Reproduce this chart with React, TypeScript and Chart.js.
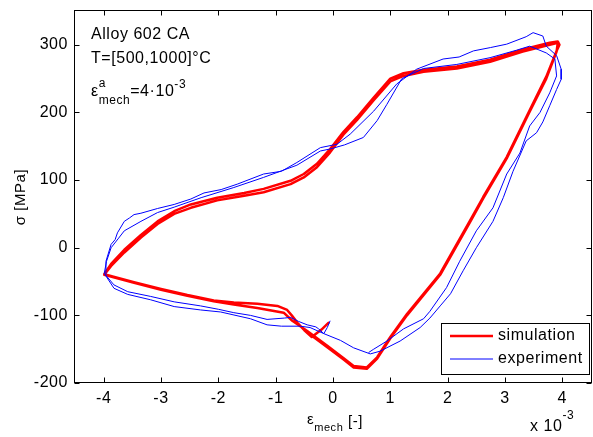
import React, { useEffect, useRef } from 'react';
import { Chart, registerables } from 'chart.js';

Chart.register(...registerables);

// strain in units of 1e-3, stress in MPa
const simStrain = [
  -0.08, -0.2, -0.37, -0.5, -0.62, -0.72, -0.8, -0.97, -1.32, -1.73, -2.08, -2.54, -3.0, -3.47, -3.99,
  -3.87, -3.64, -3.35, -3.06, -2.77, -2.48, -2.02, -1.55, -1.21, -0.74, -0.51, -0.28, -0.05, 0.18, 0.42, 0.71, 1.0, 1.23, 1.58, 2.16, 2.74, 3.31, 3.78, 3.92,
  3.95, 3.9, 3.72, 3.43, 3.03, 2.62, 2.39, 1.87, 1.29, 1.0, 0.77, 0.59,
  0.36, 0.18, -0.1, -0.45, -0.71, -0.86, -1.32, -1.73, -2.08, -2.54, -3.0, -3.47, -3.99,
  -3.87, -3.64, -3.35, -3.06, -2.77, -2.48, -2.02, -1.55, -1.21, -0.74, -0.51, -0.28, -0.05, 0.18, 0.42, 0.71, 1.0, 1.23, 1.58, 2.16, 2.74, 3.31, 3.78, 3.92,
  3.9, 3.72, 3.43, 3.03, 2.62, 2.39, 1.87, 1.29, 1.0, 0.77, 0.59, 0.36, 0.18, -0.1, -0.37,
];
const simStress = [
  -111, -121, -132, -122, -111, -100, -92, -86, -83, -81, -78, -70, -61, -51, -39,
  -24, -3, 19, 39, 54, 64, 74, 81, 87, 99, 109, 124, 146, 171, 193, 222, 250, 258, 263, 268, 278, 293, 303, 305,
  300, 291, 253, 203, 134, 75, 40, -38, -98, -132, -162, -177,
  -175, -163, -145, -123, -108, -96, -89, -84, -79, -71, -62, -52, -40,
  -27, -7, 15, 35, 50, 59, 70, 77, 82, 94, 104, 119, 141, 167, 189, 218, 246, 254, 260, 265, 275, 290, 300, 303,
  290, 250, 201, 132, 73, 38, -40, -100, -134, -164, -179, -177, -165, -147, -130,
];

const expStrain = [
  -0.05, -0.1, -0.16, -0.25, -0.3, -0.45, -0.6, -0.74, -0.85, -1.15, -1.44, -1.73, -2.0, -2.31, -2.77, -3.18, -3.58, -3.82, -3.97,
  -3.96, -3.87, -3.8, -3.76, -3.64, -3.55, -3.47, -3.35, -3.06, -2.77, -2.48, -2.25, -1.95, -1.67, -1.21, -0.9, -0.63, -0.22, 0.07, 0.3, 0.71, 1.11, 1.46, 1.92, 2.2, 2.45, 2.75, 3.03, 3.37, 3.49, 3.66, 3.72, 3.9, 3.98,
  3.98, 3.9, 3.78, 3.66, 3.55, 3.37, 3.14, 2.97, 2.79, 2.5, 2.27, 2.05, 1.87, 1.69, 1.52, 1.17, 0.82, 0.65,
  0.36, 0.13, -0.16, -0.4, -0.57, -0.9, -1.15, -1.44, -1.96, -2.31, -2.77, -3.18, -3.58, -3.82, -3.99,
  -3.95, -3.87, -3.75, -3.64, -3.35, -3.06, -2.77, -2.3, -1.73, -1.21, -0.63, -0.22, -0.05, 0.2, 0.53, 0.77, 0.94, 1.2, 1.58, 2.16, 2.74, 3.2, 3.43, 3.72, 3.87,
  3.9, 3.78, 3.61, 3.43, 3.26, 3.03, 2.79, 2.5, 2.21, 1.98, 1.69, 1.58, 1.23, 0.94, 0.71, 0.62,
];
const expStress = [
  -108, -118, -127, -120, -117, -114, -109, -103, -104, -106, -100, -96, -91, -86, -80, -72, -65, -55, -40,
  -20, 5, 12, 22, 39, 44, 49, 51, 58, 64, 72, 81, 86, 94, 109, 113, 126, 148, 153, 168, 202, 242, 264, 279, 282, 291, 296, 301, 312, 318, 313, 298, 284, 264,
  249, 234, 210, 186, 170, 158, 113, 74, 39, 0, -34, -68, -86, -104, -118, -138, -153, -157,
  -148, -137, -127, -118, -116, -116, -114, -105, -95, -92, -87, -77, -69, -60, -38,
  -20, 0, 13, 25, 39, 52, 60, 74, 89, 104, 122, 143, 146, 152, 163, 188, 212, 250, 265, 271, 281, 292, 298, 288, 279,
  254, 229, 200, 180, 140, 109, 59, 25, -20, -59, -94, -105, -120, -138, -150, -155,
];

const xTicks = [-4, -3, -2, -1, 0, 1, 2, 3, 4];
const yTicks = [-200, -100, 0, 100, 200, 300];
const seriesLabels = ['simulation', 'experiment'];
const seriesColors = ['#ff0000', '#0000ff'];
const infoLines = ['Alloy 602 CA', 'T=[500,1000]°C'];

const FONT = '"Liberation Sans", Arial, Helvetica, sans-serif';

const spacing = {
  id: 'spacing',
  beforeDraw(chart: any) {
    chart.ctx.letterSpacing = '0.55px';
  },
};

const decor = {
  id: 'decor',
  afterDraw(chart: any) {
    const { ctx, scales } = chart;
    const xs = scales.x;
    const ys = scales.y;
    ctx.save();
    ctx.letterSpacing = '0.55px';
    ctx.strokeStyle = '#000';
    ctx.lineWidth = 1;
    const L = 74.5, R = 591.5, T = 10.5, B = 382.5;
    ctx.strokeRect(L, T, R - L, B - T);
    ctx.beginPath();
    for (const v of xTicks) {
      const px = Math.round(xs.getPixelForValue(v)) + 0.5;
      ctx.moveTo(px, B); ctx.lineTo(px, B - 5);
      ctx.moveTo(px, T); ctx.lineTo(px, T + 5);
    }
    for (const v of yTicks) {
      const py = Math.round(ys.getPixelForValue(v)) + 0.5;
      ctx.moveTo(L, py); ctx.lineTo(L + 5, py);
      ctx.moveTo(R, py); ctx.lineTo(R - 5, py);
    }
    ctx.stroke();

    ctx.fillStyle = '#000';
    ctx.textAlign = 'left';
    ctx.textBaseline = 'alphabetic';
    // info text
    ctx.font = `16px ${FONT}`;
    ctx.fillText(infoLines[0], 91, 39);
    ctx.fillText(infoLines[1], 91, 63);
    let x = 91;
    ctx.fillText('ε', x, 96);
    x += ctx.measureText('ε').width;
    ctx.font = `12px ${FONT}`;
    ctx.fillText('a', x, 87);
    ctx.fillText('mech', x, 104);
    x += Math.max(ctx.measureText('a').width, ctx.measureText('mech').width);
    ctx.font = `16px ${FONT}`;
    ctx.fillText('=4·10', x, 96);
    x += ctx.measureText('=4·10').width;
    ctx.font = `12px ${FONT}`;
    ctx.fillText('-3', x, 88);

    // x axis title
    x = 307;
    ctx.font = `15px ${FONT}`;
    ctx.fillText('ε', x, 424);
    x += ctx.measureText('ε').width;
    ctx.font = `11px ${FONT}`;
    ctx.fillText('mech', x, 431);
    x += ctx.measureText('mech').width;
    ctx.font = `15px ${FONT}`;
    ctx.fillText(' [-]', x, 426);

    // exponent
    ctx.font = `16px ${FONT}`;
    ctx.fillText('x 10', 530, 431);
    const ew = ctx.measureText('x 10').width;
    ctx.font = `12px ${FONT}`;
    ctx.fillText('-3', 530 + ew, 419);

    // y axis title
    ctx.save();
    ctx.translate(21, 197);
    ctx.rotate(-Math.PI / 2);
    ctx.textAlign = 'center';
    ctx.textBaseline = 'middle';
    ctx.font = `15px ${FONT}`;
    ctx.fillText('σ [MPa]', 0, 0);
    ctx.restore();

    // legend
    const lx = 441.5, ly = 323.5, lw = 148, lh = 51;
    ctx.fillStyle = '#fff';
    ctx.fillRect(lx, ly, lw, lh);
    ctx.strokeStyle = '#000';
    ctx.lineWidth = 1;
    ctx.strokeRect(lx, ly, lw, lh);
    const rows = [336, 359];
    const widths = [2.5, 1];
    rows.forEach((ry, i) => {
      ctx.beginPath();
      ctx.strokeStyle = seriesColors[i];
      ctx.lineWidth = widths[i];
      ctx.moveTo(450, ry);
      ctx.lineTo(493, ry);
      ctx.stroke();
      ctx.fillStyle = '#000';
      ctx.font = `16px ${FONT}`;
      ctx.textBaseline = 'middle';
      ctx.fillText(seriesLabels[i], 498, ry);
    });
    ctx.restore();
  },
};

export default function App() {
  const ref = useRef<HTMLCanvasElement | null>(null);
  useEffect(() => {
    if (!ref.current) return;
    const chart = new Chart(ref.current, {
      type: 'scatter',
      data: {
        datasets: [
          {
            label: seriesLabels[0],
            data: simStrain.map((v, i) => ({ x: v, y: simStress[i] })),
            showLine: true,
            borderColor: seriesColors[0],
            backgroundColor: seriesColors[0],
            borderWidth: 2.5,
            pointRadius: 0,
            borderJoinStyle: 'round',
            borderCapStyle: 'round',
            tension: 0,
            order: 1,
          },
          {
            label: seriesLabels[1],
            data: expStrain.map((v, i) => ({ x: v, y: expStress[i] })),
            showLine: true,
            borderColor: seriesColors[1],
            backgroundColor: seriesColors[1],
            borderWidth: 1,
            pointRadius: 0,
            tension: 0,
            order: 0,
          },
        ],
      },
      options: {
        responsive: false,
        animation: false,
        layout: { padding: { left: 0, right: 2, top: 11, bottom: 0 } },
        plugins: { legend: { display: false }, tooltip: { enabled: false } },
        scales: {
          x: {
            type: 'linear',
            min: -4.5,
            max: 4.5,
            afterBuildTicks: (s: any) => { s.ticks = xTicks.map((v) => ({ value: v })); },
            afterFit: (s: any) => { s.height = 54; s.paddingLeft = 0; s.paddingRight = 0; },
            grid: { display: false, drawTicks: false },
            border: { display: false },
            ticks: { color: '#000', font: { family: FONT, size: 16 }, padding: 6, maxRotation: 0, autoSkip: false },
          },
          y: {
            type: 'linear',
            min: -200,
            max: 350,
            afterBuildTicks: (s: any) => { s.ticks = yTicks.map((v) => ({ value: v })); },
            afterFit: (s: any) => { s.width = 75; s.paddingTop = 0; s.paddingBottom = 0; },
            grid: { display: false, drawTicks: false },
            border: { display: false },
            ticks: { color: '#000', font: { family: FONT, size: 16 }, padding: 7, autoSkip: false },
          },
        },
      },
      plugins: [spacing, decor],
    });
    return () => chart.destroy();
  }, []);
  return (
    <div style={{ position: 'fixed', left: 0, top: 0, width: 593, height: 437, background: '#fff' }}>
      <canvas ref={ref} width={593} height={437} />
    </div>
  );
}
